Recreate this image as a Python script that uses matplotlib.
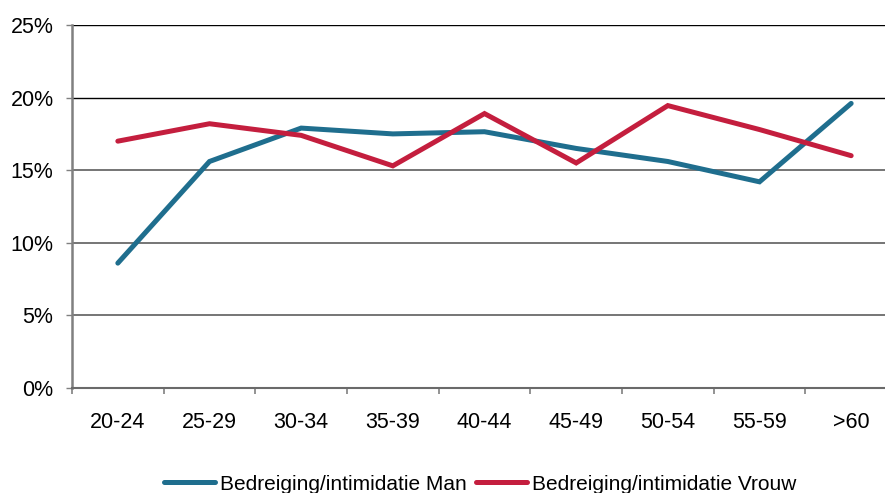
import matplotlib
matplotlib.use("Agg")
import matplotlib.pyplot as plt
from matplotlib.ticker import FuncFormatter

categories = ["20-24", "25-29", "30-34", "35-39", "40-44", "45-49", "50-54", "55-59", ">60"]
man = [8.6, 15.6, 17.9, 17.5, 17.65, 16.5, 15.6, 14.2, 19.6]
vrouw = [17.0, 18.2, 17.4, 15.3, 18.9, 15.5, 19.45, 17.8, 16.0]
series_labels = ["Bedreiging/intimidatie Man", "Bedreiging/intimidatie Vrouw"]
yticks = [0, 5, 10, 15, 20, 25]

plt.rcParams['font.family'] = ['Liberation Sans', 'DejaVu Sans']

fig = plt.figure(figsize=(8.85, 4.93), dpi=100)
ax = fig.add_axes([72/885, 1-388/493, 825/885, 363/493])

x = list(range(len(categories)))
l1, = ax.plot(x, man, color="#1F6E8E", lw=3.6, solid_capstyle="round", solid_joinstyle="miter", zorder=3)
l2, = ax.plot(x, vrouw, color="#C41E3E", lw=3.6, solid_capstyle="round", solid_joinstyle="miter", zorder=3)

ax.set_xlim(-0.5, len(categories) - 0.5)
ax.set_ylim(0, 25)
ax.set_yticks(yticks)
ax.yaxis.set_major_formatter(FuncFormatter(lambda v, p: f"{v:.0f}%"))
ax.tick_params(axis="y", labelsize=15.5, length=4.3, width=1, color="#808080", direction="out", pad=9)

ax.set_xticks([i - 0.5 for i in range(len(categories) + 1)])
ax.set_xticklabels([])
ax.set_xticks(x, minor=True)
ax.set_xticklabels(categories, minor=True)
ax.tick_params(axis="x", which="major", length=4, width=1.2, color="#808080", direction="out")
ax.tick_params(axis="x", which="minor", length=0, labelsize=15.5, pad=17)

ax.yaxis.grid(True, zorder=1)
for v, gl in zip(yticks, ax.get_ygridlines()):
    if v >= 20:
        gl.set_color("black"); gl.set_linewidth(1.0)
    else:
        gl.set_color("#6a6a6a"); gl.set_linewidth(1.3)
ax.set_axisbelow(True)

for s in ["top", "right"]:
    ax.spines[s].set_visible(False)
ax.spines["left"].set_color("#808080")
ax.spines["left"].set_linewidth(1.8)
ax.spines["bottom"].set_color("#6a6a6a")
ax.spines["bottom"].set_linewidth(1.5)

fig.legend([l1, l2], series_labels, loc="center", bbox_to_anchor=(480/885, 1-484/493),
           ncol=2, frameon=False, fontsize=15, handlelength=2.45, handletextpad=0.25,
           columnspacing=0.45, borderpad=0, borderaxespad=0)

fig.savefig("out.png", dpi=100)
